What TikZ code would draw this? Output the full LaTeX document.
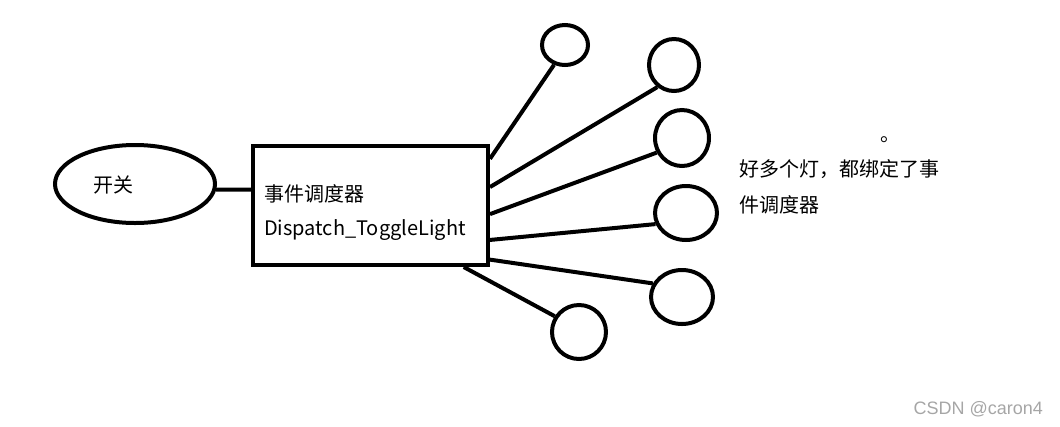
\documentclass[tikz,border=0pt]{standalone}
\usepackage{fontspec}
\setmainfont{Noto Sans CJK SC}
\newfontfamily\markfont{Liberation Sans}
\usetikzlibrary{shapes.geometric,calc}
\tikzset{
  lamp/.style={draw,ellipse,inner sep=0pt},
  txt/.style={inner sep=0pt,anchor=west},
}

\begin{document}
\begin{tikzpicture}[x=0.75pt,y=-0.75pt,line width=3pt,font=\fontsize{15pt}{18pt}\selectfont]
		\useasboundingbox (0,0) rectangle (1060,426);
		% switch and dispatcher
		\node[draw,ellipse,minimum width=120pt,minimum height=58.5pt] (switch) at (135,184) {};
		\node[inner sep=0pt] (switchtxt) at (113,185) {开关};
		\node[draw,rectangle,minimum width=176.25pt,minimum height=89.25pt] (disp) at (370.5,205.5) {};
		\node[txt] (disptxt) at (262,194) {事件调度器};
		\node[txt] (dispname) at (262,230) {Dispatch\_ToggleLight};
		\draw (switch.-4) -- ($(disp.north west)!0.37!(disp.south west)$);
		% lamps
		\node[lamp,minimum width=34.5pt,minimum height=30pt] (lamp1) at (565,45) {};
		\node[lamp,minimum width=37.5pt,minimum height=39pt] (lamp2) at (674,65) {};
		\node[lamp,minimum width=40.5pt,minimum height=42pt] (lamp3) at (682,138) {};
		\node[lamp,minimum width=46.5pt,minimum height=40.5pt] (lamp4) at (686,213) {};
		\node[lamp,minimum width=46.5pt,minimum height=40.5pt] (lamp5) at (682,297) {};
		\node[lamp,minimum width=40.5pt,minimum height=40.5pt] (lamp6) at (579,332) {};
		\foreach \f/\l/\a in {0.12/lamp1/241,0.35/lamp2/233,0.57/lamp3/210,0.78/lamp4/200,0.94/lamp5/155}
			\draw ($(disp.north east)!\f!(disp.south east)$) -- (\l.\a);
		\draw ($(disp.south west)!0.89!(disp.south east)$) -- (lamp6.147);
		% note
		\node[inner sep=0pt,anchor=base west] (stop) at (878,141) {。};
		\node[txt] (note1) at (737,169) {好多个灯，都绑定了事};
		\node[txt] (note2) at (737,205) {件调度器};
		\node[inner sep=0pt,anchor=east,text=black!35,font=\markfont\fontsize{13.5pt}{16pt}\selectfont] (mark) at (1045,409) {CSDN @caron4};
	\end{tikzpicture}
\end{document}
